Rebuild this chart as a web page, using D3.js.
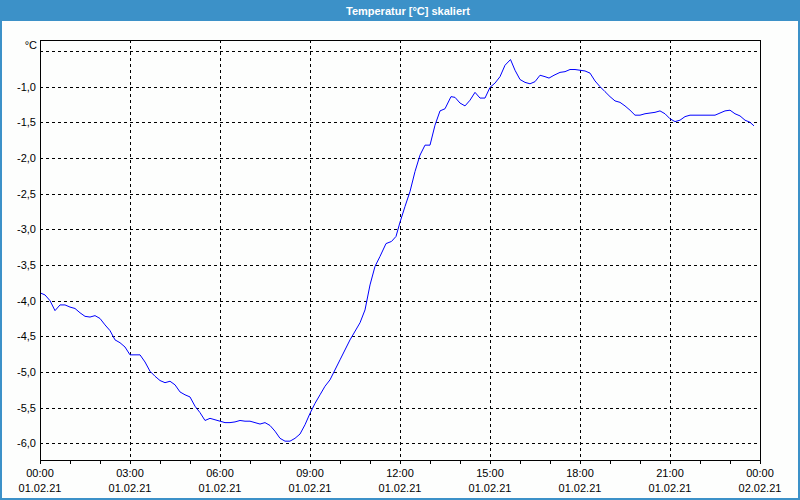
<!DOCTYPE html>
<html>
<head>
<meta charset="utf-8">
<script src="https://cdn.jsdelivr.net/npm/d3@7"></script>
<style>
  body { margin: 0; background: #fdfefd; }
  svg { display: block; }
  text { font-family: "Liberation Sans Narrow", "Liberation Sans", sans-serif; font-size: 11px; fill: #000; }
</style>
</head>
<body>
<div id="chart"></div>
<script>
// Messwerte: Minuten ab 01.02.21 00:00 und Temperatur in °C
const minutes = [0, 10, 20, 30, 40, 50, 60, 70, 80, 90, 100, 110, 120, 130, 140, 150, 160, 170,
  180, 200, 210, 220, 230, 240, 250, 260, 270, 280, 290, 300, 310, 320, 330, 340, 350,
  360, 370, 380, 390, 400, 410, 420, 430, 440, 450, 460, 470, 480, 490, 500, 510, 520, 530,
  540, 550, 560, 570, 580, 600, 620, 640, 650, 660, 670, 680, 692, 703, 712,
  720, 730, 740, 750, 760, 770, 780, 790, 800, 810, 822, 830, 840, 850, 860, 870, 880, 890,
  900, 910, 920, 930, 941, 950, 960, 970, 980, 990, 1000, 1010, 1018, 1028, 1040, 1050, 1060, 1070,
  1080, 1090, 1100, 1110, 1120, 1130, 1140, 1150, 1160, 1170, 1180, 1190, 1200, 1210, 1220, 1230, 1240, 1250,
  1260, 1270, 1280, 1290, 1300, 1310, 1320, 1330, 1340, 1350, 1360, 1370, 1380, 1390, 1400, 1410, 1420, 1428];
const temps = [-3.89, -3.92, -4.00, -4.14, -4.06, -4.06, -4.09, -4.11, -4.17, -4.22, -4.23, -4.21, -4.25, -4.34, -4.42, -4.55, -4.59, -4.65,
  -4.76, -4.76, -4.86, -4.99, -5.06, -5.12, -5.15, -5.13, -5.18, -5.28, -5.32, -5.35, -5.48, -5.57, -5.68, -5.65, -5.67,
  -5.69, -5.71, -5.71, -5.70, -5.68, -5.69, -5.69, -5.71, -5.73, -5.71, -5.75, -5.83, -5.93, -5.97, -5.97, -5.93, -5.87, -5.74,
  -5.58, -5.44, -5.32, -5.20, -5.11, -4.83, -4.55, -4.31, -4.13, -3.78, -3.52, -3.38, -3.20, -3.17, -3.10,
  -2.90, -2.68, -2.47, -2.19, -1.96, -1.82, -1.82, -1.54, -1.34, -1.31, -1.14, -1.15, -1.23, -1.27, -1.19, -1.08, -1.16, -1.16,
  -1.01, -0.95, -0.86, -0.70, -0.62, -0.77, -0.90, -0.94, -0.96, -0.93, -0.84, -0.86, -0.88, -0.84, -0.80, -0.79, -0.76, -0.76,
  -0.77, -0.78, -0.81, -0.92, -1.00, -1.07, -1.14, -1.20, -1.22, -1.27, -1.33, -1.40, -1.40, -1.38, -1.37, -1.36, -1.34, -1.38,
  -1.45, -1.49, -1.47, -1.42, -1.40, -1.40, -1.40, -1.40, -1.40, -1.40, -1.37, -1.34, -1.33, -1.38, -1.41, -1.47, -1.50, -1.55];
const yTicks = [-6.0, -5.5, -5.0, -4.5, -4.0, -3.5, -3.0, -2.5, -2.0, -1.5, -1.0, -0.5];
const title = "Temperatur [°C] skaliert";
const unit = "°C";

const W = 800, H = 500;
const plot = { left: 40, right: 760, top: 40, bottom: 460.5 };
const start = new Date(2021, 1, 1, 0, 0);
const end = new Date(2021, 1, 2, 0, 0);

const data = minutes.map((m, i) => ({ date: d3.timeMinute.offset(start, m), value: temps[i] }));

const svg = d3.select("#chart").append("svg")
  .attr("width", W)
  .attr("height", H);

// Rahmen und Titelleiste
svg.append("rect").attr("x", 1).attr("y", 0).attr("width", W - 2).attr("height", H - 1)
  .attr("fill", "#fdfefd").attr("stroke", "#3c91c8").attr("stroke-width", 2);
svg.append("rect").attr("x", 0).attr("y", 0).attr("width", W).attr("height", 21).attr("fill", "#3c91c8");
svg.append("text")
  .attr("x", 408).attr("y", 11)
  .attr("text-anchor", "middle").attr("dominant-baseline", "central")
  .style("font-weight", "bold").style("fill", "#fff")
  .text(title);

const x = d3.scaleTime().domain([start, end]).range([plot.left, plot.right]);
const y = d3.scaleLinear().domain([-6.241, -0.346]).range([plot.bottom, plot.top]);

// Gitterlinien
const grid = svg.append("g").attr("stroke", "#000").attr("stroke-dasharray", "3,3").attr("shape-rendering", "crispEdges");
grid.selectAll("line.h").data(yTicks).join("line")
  .attr("class", "h")
  .attr("x1", plot.left).attr("x2", plot.right)
  .attr("y1", d => Math.round(y(d)) + 0.5).attr("y2", d => Math.round(y(d)) + 0.5);
grid.selectAll("line.v").data(x.ticks(d3.timeHour.every(3)).slice(1, -1)).join("line")
  .attr("class", "v")
  .attr("x1", d => Math.round(x(d)) + 0.5).attr("x2", d => Math.round(x(d)) + 0.5)
  .attr("y1", plot.top).attr("y2", plot.bottom);

// Messkurve
const line = d3.line().x(d => x(d.date)).y(d => y(d.value));
svg.append("path").datum(data)
  .attr("fill", "none").attr("stroke", "#0000ff").attr("stroke-width", 1)
  .attr("d", line);

// Rahmen des Diagramms
svg.append("rect")
  .attr("x", plot.left + 0.5).attr("y", plot.top + 0.5)
  .attr("width", plot.right - plot.left).attr("height", plot.bottom - plot.top - 0.5)
  .attr("fill", "none").attr("stroke", "#000").attr("shape-rendering", "crispEdges");

// X-Achse: Stundenstriche
const xAxis = svg.append("g")
  .attr("transform", `translate(0,${plot.bottom})`)
  .call(d3.axisBottom(x).ticks(d3.timeHour.every(1)).tickSize(3).tickSizeOuter(0).tickFormat(""));
xAxis.select(".domain").remove();
xAxis.selectAll("line").attr("shape-rendering", "crispEdges");

// X-Beschriftung in zwei Zeilen
const fmtTime = d3.timeFormat("%H:%M");
const fmtDate = d3.timeFormat("%d.%m.%y");
const xl = svg.append("g").selectAll("text").data(x.ticks(d3.timeHour.every(3))).join("text")
  .attr("text-anchor", "middle")
  .attr("x", d => x(d));
xl.append("tspan").attr("x", d => x(d)).attr("y", 477).text(d => fmtTime(d));
xl.append("tspan").attr("x", d => x(d)).attr("y", 492).text(d => fmtDate(d));

// Y-Beschriftung
const fmtY = v => d3.format(".1f")(v).replace(".", ",").replace("−", "-");
svg.append("g").selectAll("text").data(yTicks.filter(d => d !== -0.5)).join("text")
  .attr("x", 36).attr("y", d => y(d))
  .attr("text-anchor", "end").attr("dominant-baseline", "central")
  .text(d => fmtY(d));
svg.append("text")
  .attr("x", 37).attr("y", 45)
  .attr("text-anchor", "end").attr("dominant-baseline", "central")
  .text(unit);
</script>
</body>
</html>
